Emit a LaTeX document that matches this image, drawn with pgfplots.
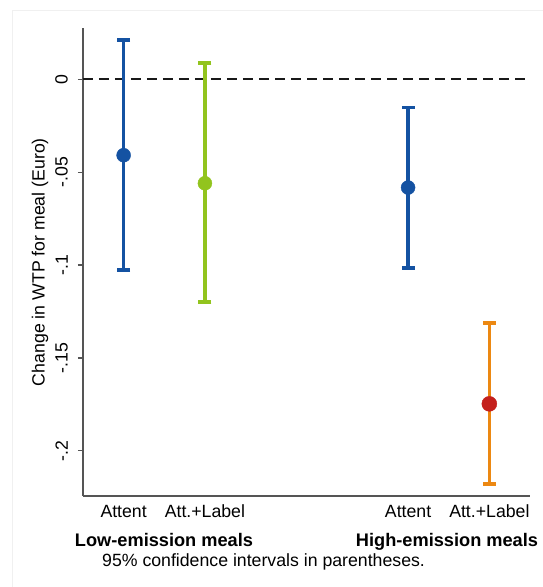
\documentclass[border=0pt]{standalone}
\usepackage{pgfplots}
\pgfplotsset{compat=1.18}
\usepackage{fontspec}
\setmainfont{Liberation Sans}
\definecolor{cblue}{RGB}{20,82,162}
\definecolor{cgreen}{RGB}{146,196,30}
\definecolor{corange}{RGB}{236,136,18}
\definecolor{cred}{RGB}{196,32,28}
\definecolor{axgray}{RGB}{85,85,85}
\begin{document}
\fontsize{17.7}{21}\selectfont
\begin{tikzpicture}
\useasboundingbox (-83pt,-91pt) rectangle (460pt,496pt);
\draw[gray!12, line width=0.8pt] (-71pt,-91pt) -- (-71pt,486pt) -- (460pt,486pt);
\begin{axis}[
 at={(0pt,0pt)}, anchor=south west,
 scale only axis, width=447pt, height=467.7pt,
 xmin=0.5, xmax=6, ymin=-0.2243, ymax=0.0274,
 axis x line*=bottom, axis y line*=left,
 axis line style={axgray, line width=1.2pt, -},
 xtick={1,2,4.5,5.5}, xticklabels={Attent,Att.+Label,Attent,Att.+Label},
 x tick style={draw=none},
 ytick={-0.2,-0.15,-0.1,-0.05,0}, yticklabels={-.2,-.15,-.1,-.05,0},
 y tick style={axgray, line width=1.2pt},
 tick align=outside, major tick length=5pt,
 /pgf/number format/assume math mode=true,
 yticklabel style={rotate=90, anchor=south, yshift=4pt},
 xticklabel style={anchor=base, yshift=-16pt},
 ylabel={Change in WTP for meal (Euro)},
 ylabel style={at={(axis description cs:0,0.5)}, anchor=center, yshift=43pt},
 clip=false,
]
\addplot[black!90, line width=1.5pt, dash pattern=on 10pt off 6pt] coordinates {(0.5,0) (6,0)};
% Low-emission, Attent
\addplot[cblue, line width=3.5pt, mark=-, mark size=6.5pt, mark options={line width=3.5pt, solid}] coordinates {(1,-0.1026) (1,0.0211)};
\addplot[cblue, only marks, mark=*, mark size=7pt] coordinates {(1,-0.0409)};
% Low-emission, Att.+Label
\addplot[cgreen, line width=3.5pt, mark=-, mark size=6.5pt, mark options={line width=3.5pt, solid}] coordinates {(2,-0.1200) (2,0.0086)};
\addplot[cgreen, only marks, mark=*, mark size=7pt] coordinates {(2,-0.0560)};
% High-emission, Attent
\addplot[cblue, line width=3.5pt, mark=-, mark size=6.5pt, mark options={line width=3.5pt, solid}] coordinates {(4.5,-0.1017) (4.5,-0.0151)};
\addplot[cblue, only marks, mark=*, mark size=7pt] coordinates {(4.5,-0.0583)};
% High-emission, Att.+Label
\addplot[cred, only marks, mark=*, mark size=7.5pt] coordinates {(5.5,-0.1747)};
\addplot[corange, line width=3.5pt, mark=-, mark size=6.5pt, mark options={line width=3.5pt, solid}] coordinates {(5.5,-0.2178) (5.5,-0.1313)};
\end{axis}
\node[font=\fontsize{18.2}{21}\selectfont\bfseries, anchor=base, inner sep=0pt] at (81pt,-50pt) {Low-emission meals};
\node[font=\fontsize{18.2}{21}\selectfont\bfseries, anchor=base, inner sep=0pt] at (364pt,-50pt) {High-emission meals};
\node[anchor=base west, inner sep=0pt] at (19pt,-70pt) {95\% confidence intervals in parentheses.};
\end{tikzpicture}
\end{document}
